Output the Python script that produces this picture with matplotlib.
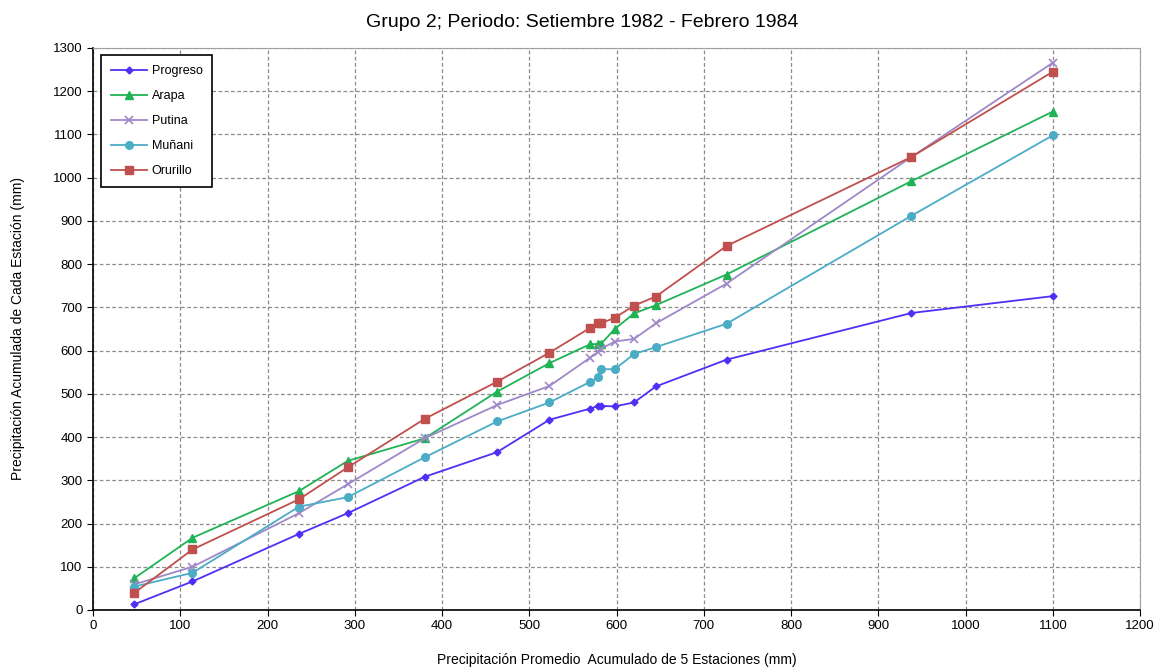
import matplotlib
matplotlib.use("Agg")
import matplotlib.pyplot as plt

# Cumulative mean precipitation of the 5 stations (mm)
x_mean = [47, 114, 236, 292, 380, 463, 523, 570, 579, 582, 598, 620, 645, 726, 938, 1100]

progreso = [13, 66, 176, 224, 308, 365, 440, 466, 472, 472, 471, 480, 517, 579, 687, 726]
arapa    = [73, 167, 275, 345, 397, 505, 571, 615, 615, 615, 650, 686, 705, 776, 992, 1153]
putina   = [59, 100, 224, 291, 397, 474, 518, 584, 597, 604, 621, 627, 663, 755, 1048, 1266]
munani   = [54, 86, 239, 261, 353, 436, 480, 528, 538, 557, 557, 592, 608, 662, 912, 1098]
orurillo = [39, 140, 256, 330, 442, 528, 595, 653, 663, 663, 676, 704, 725, 842, 1048, 1245]

series = [
    ("Progreso", progreso, "#4F2FF5", "D", 3.5, {}),
    ("Arapa", arapa, "#1FB356", "^", 6, {}),
    ("Putina", putina, "#9F88C9", "x", 5.5, {"markeredgewidth": 1.2}),
    ("Muñani", munani, "#4BACC6", "o", 5.5, {}),
    ("Orurillo", orurillo, "#C0504D", "s", 5.5, {}),
]

plt.rcParams["font.family"] = ["Liberation Sans", "DejaVu Sans"]

fig = plt.figure(figsize=(11.57, 6.69), dpi=100)
ax = fig.add_axes([0.0804, 0.0882, 0.905, 0.8401])

for name, vals, color, mk, ms, extra in series:
    ax.plot(x_mean, vals, color=color, marker=mk, markersize=ms, linewidth=1.3,
            label=name, markeredgecolor=color, **extra)

ax.set_xlim(0, 1200)
ax.set_ylim(0, 1300)
ax.set_xticks(range(0, 1201, 100))
ax.set_yticks(range(0, 1301, 100))
ax.tick_params(axis="both", labelsize=9.5, direction="out", length=4, color="black")
ax.grid(True, linestyle=(0, (3, 2)), color="#8c8c8c", linewidth=0.9)
ax.set_axisbelow(True)

for side in ("top", "right"):
    ax.spines[side].set_color("#a0a0a0")
for side in ("left", "bottom"):
    ax.spines[side].set_color("black")
    ax.spines[side].set_linewidth(1.2)

fig.text(0.503, 0.967, "Grupo 2; Periodo: Setiembre 1982 - Febrero 1984",
         fontsize=14, ha="center", va="center")
ax.set_xlabel("Precipitación Promedio  Acumulado de 5 Estaciones (mm)", fontsize=10, labelpad=15)
ax.set_ylabel("Precipitación Acumulada de Cada Estación (mm)", fontsize=10, labelpad=20)

leg = ax.legend(loc="upper left", bbox_to_anchor=(0.0076, 0.9875), borderaxespad=0,
                fontsize=9, frameon=True, fancybox=False, edgecolor="black", framealpha=1,
                handlelength=2.9, labelspacing=1.05, borderpad=0.8, handletextpad=0.35)
leg.get_frame().set_linewidth(1.2)

fig.savefig("out.png", dpi=100, facecolor="white")
